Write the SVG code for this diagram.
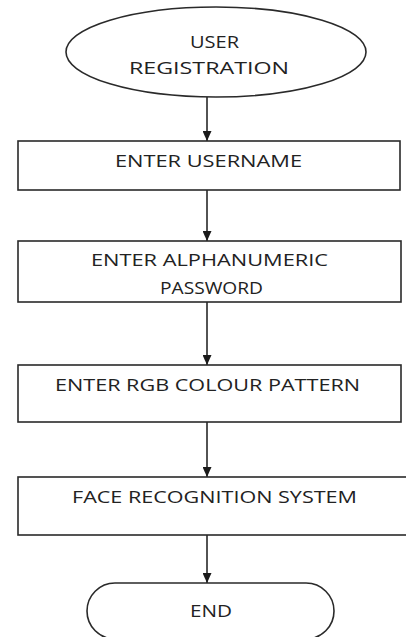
<svg xmlns="http://www.w3.org/2000/svg" width="406" height="637" viewBox="0 0 406 637">
<style>
.shape{fill:#fff;stroke:#2a2a2a;stroke-width:1.6}
.lbl{font-family:"Open Sans","Liberation Sans",Arial,sans-serif;font-size:16.5px;fill:#222}
.conn{stroke:#1a1a1a;stroke-width:1.5;fill:none}
</style>
<defs>
<marker id="ah" markerWidth="10" markerHeight="9" refX="10" refY="4.5" orient="auto" markerUnits="userSpaceOnUse">
<path d="M0,0 L10,4.5 L0,9 Z" fill="#1a1a1a"/>
</marker>
</defs>
<rect width="406" height="637" fill="#fff"/>
<g id="connectors">
<line class="conn" x1="207" y1="97" x2="207" y2="141" marker-end="url(#ah)"/>
<line class="conn" x1="207" y1="190" x2="207" y2="241" marker-end="url(#ah)"/>
<line class="conn" x1="207" y1="302" x2="207" y2="365" marker-end="url(#ah)"/>
<line class="conn" x1="207" y1="422" x2="207" y2="477" marker-end="url(#ah)"/>
<line class="conn" x1="207" y1="535" x2="207" y2="583" marker-end="url(#ah)"/>
</g>
<g id="start">
<ellipse class="shape" cx="216" cy="52" rx="150" ry="45"/>
<text class="lbl" x="190" y="48" textLength="49" lengthAdjust="spacingAndGlyphs">USER</text>
<text class="lbl" x="129" y="74" textLength="160" lengthAdjust="spacingAndGlyphs">REGISTRATION</text>
</g>
<g id="username">
<rect class="shape" x="18" y="141" width="382" height="49"/>
<text class="lbl" x="115" y="167" textLength="187" lengthAdjust="spacingAndGlyphs">ENTER USERNAME</text>
</g>
<g id="password">
<rect class="shape" x="18" y="241" width="383" height="61"/>
<text class="lbl" x="91" y="266" textLength="237" lengthAdjust="spacingAndGlyphs">ENTER ALPHANUMERIC</text>
<text class="lbl" x="160" y="294" textLength="103" lengthAdjust="spacingAndGlyphs">PASSWORD</text>
</g>
<g id="rgb">
<rect class="shape" x="18" y="365" width="383" height="57"/>
<text class="lbl" x="55" y="391" textLength="305" lengthAdjust="spacingAndGlyphs">ENTER RGB COLOUR PATTERN</text>
</g>
<g id="face">
<rect class="shape" x="18" y="477" width="392" height="58"/>
<text class="lbl" x="72" y="503" textLength="285" lengthAdjust="spacingAndGlyphs">FACE RECOGNITION SYSTEM</text>
</g>
<g id="end">
<rect class="shape" x="87" y="583" width="247" height="56" rx="28" ry="28"/>
<text class="lbl" x="190" y="617" textLength="42" lengthAdjust="spacingAndGlyphs">END</text>
</g>
</svg>
